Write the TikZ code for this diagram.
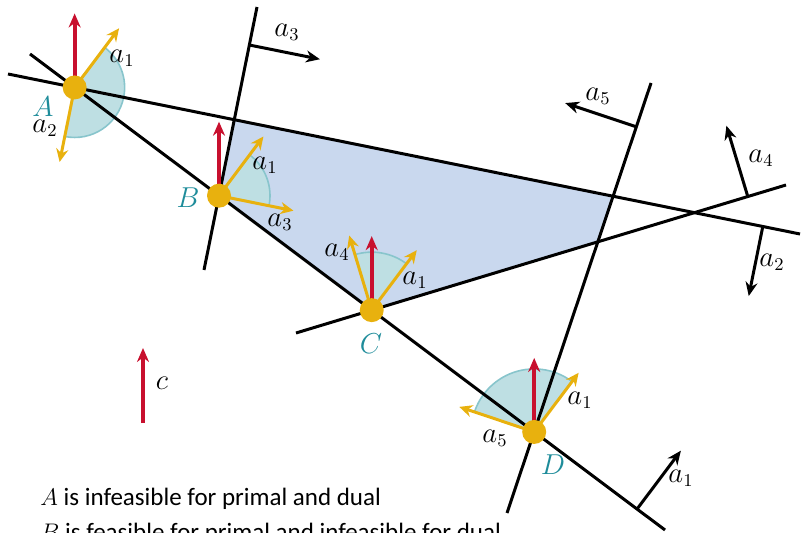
\documentclass[tikz,border=0pt]{standalone}
\usepackage{fontspec}
\setmainfont{Carlito}
\usepackage{xcolor}
\usetikzlibrary{arrows.meta,positioning,calc}
\definecolor{RegionBlue}{HTML}{C9D8EE}
\definecolor{ConeTeal}{HTML}{BEDFE3}
\definecolor{ConeEdge}{HTML}{88C5CC}
\definecolor{DualYellow}{HTML}{E8B10E}
\definecolor{CostRed}{HTML}{C8102E}
\definecolor{LabelTeal}{HTML}{1E8C9A}

\begin{document}
\begin{tikzpicture}[
	x=0.5pt, y=0.5pt,
	font=\fontsize{13.5}{16}\selectfont,
	facet/.style={line width=1.5pt},
	facetnormal/.style={-{Stealth[length=7pt,width=6pt]}, line width=1.5pt},
	dualarrow/.style={-{Stealth[length=6.5pt,width=6pt]}, line width=1.5pt, draw=DualYellow},
	costarrow/.style={-{Stealth[length=7pt,width=6pt]}, line width=2pt, draw=CostRed},
	vertexdot/.style={circle, fill=DualYellow, minimum size=12pt, inner sep=0pt},
	vertexlabel/.style={text=LabelTeal},
	conefill/.style={fill=ConeTeal},
	conearc/.style={draw=ConeEdge, line width=0.8pt},
	note/.style={anchor=base west, inner sep=0pt, font=\fontsize{12.5}{15}\selectfont}
]
\clip (0,0) rectangle (801,-533);

\coordinate (L1s) at (30,-54);
\coordinate (L1e) at (665,-530);
\coordinate (L2s) at (8,-74);
\coordinate (L2e) at (800,-234);
\coordinate (L3s) at (257,-7);
\coordinate (L3e) at (204,-270);
\coordinate (L4s) at (296,-333);
\coordinate (L4e) at (786,-185);
\coordinate (L5s) at (651,-83);
\coordinate (L5e) at (507,-513);

\coordinate (A) at (intersection of L1s--L1e and L2s--L2e);
\coordinate (B) at (intersection of L1s--L1e and L3s--L3e);
\coordinate (C) at (intersection of L1s--L1e and L4s--L4e);
\coordinate (D) at (intersection of L1s--L1e and L5s--L5e);

\fill[RegionBlue] (B) -- (intersection of L2s--L2e and L3s--L3e)
	-- (intersection of L2s--L2e and L5s--L5e)
	-- (intersection of L4s--L4e and L5s--L5e) -- (C) -- cycle;

\foreach \v/\s/\e/\r in {A/-101.4/53.1/50, B/-11.4/53.1/51, C/53.1/106.8/58, D/53.1/161.5/63} {
	\fill[conefill] (\v) -- ++(\s:\r) arc[start angle=\s, end angle=\e, radius=\r] -- cycle;
	\draw[conearc] (\v) ++(\s:\r) arc[start angle=\s, end angle=\e, radius=\r];
}

\foreach \i in {1,...,5}
	\draw[facet] (L\i s) -- (L\i e);

\coordinate (N1) at ($(L1s)!0.956!(L1e)$);
\coordinate (N2) at ($(L2s)!0.953!(L2e)$);
\coordinate (N3) at ($(L3s)!0.1445!(L3e)$);
\coordinate (N4) at ($(L4s)!0.922!(L4e)$);
\coordinate (N5) at ($(L5s)!0.102!(L5e)$);
\draw[facetnormal] (N1) -- ++(53.1:73);
\draw[facetnormal] (N2) -- ++(-101.4:71);
\draw[facetnormal] (N3) -- ++(-11.4:72);
\draw[facetnormal] (N4) -- ++(106.8:74);
\draw[facetnormal] (N5) -- ++(161.5:75);
\node (n1) at (681,-478) {$a_1$};
\node (n2) at (772,-262) {$a_2$};
\node (n3) at (287,-32) {$a_3$};
\node (n4) at (761,-158) {$a_4$};
\node (n5) at (598,-96) {$a_5$};

\foreach \v in {A,B,C,D}
	\draw[costarrow] (\v) -- ++(90:74);

\draw[dualarrow] (A) -- ++(53.1:74);
\draw[dualarrow] (A) -- ++(-101.4:76);
\draw[dualarrow] (B) -- ++(53.1:74);
\draw[dualarrow] (B) -- ++(-11.4:76);
\draw[dualarrow] (C) -- ++(53.1:75);
\draw[dualarrow] (C) -- ++(106.8:78);
\draw[dualarrow] (D) -- ++(53.1:74);
\draw[dualarrow] (D) -- ++(161.5:79);

\foreach \v in {A,B,C,D}
	\node[vertexdot] (dot\v) at (\v) {};

\node[vertexlabel] (labA) at (43,-107) {$A$};
\node[vertexlabel] (labB) at (188,-198) {$B$};
\node[vertexlabel] (labC) at (371,-344) {$C$};
\node[vertexlabel] (labD) at (553,-465) {$D$};

\node (A1) at (122,-58) {$a_1$};
\node (A2) at (45,-128) {$a_2$};
\node (B1) at (265,-165) {$a_1$};
\node (B3) at (280,-222) {$a_3$};
\node (C4) at (337,-252) {$a_4$};
\node (C1) at (415,-280) {$a_1$};
\node (D5) at (495,-438) {$a_5$};
\node (D1) at (580,-400) {$a_1$};

\coordinate (cbase) at (143,-423);
\draw[costarrow] (cbase) -- ++(90:75) coordinate (ctip);
\node (clab) at (162,-383) {$c$};

\node[note] (noteA) at (40,-505) {$A$ is infeasible for primal and dual};
\node[note] (noteB) at (40,-540) {$B$ is feasible for primal and infeasible for dual};
\end{tikzpicture}
\end{document}
